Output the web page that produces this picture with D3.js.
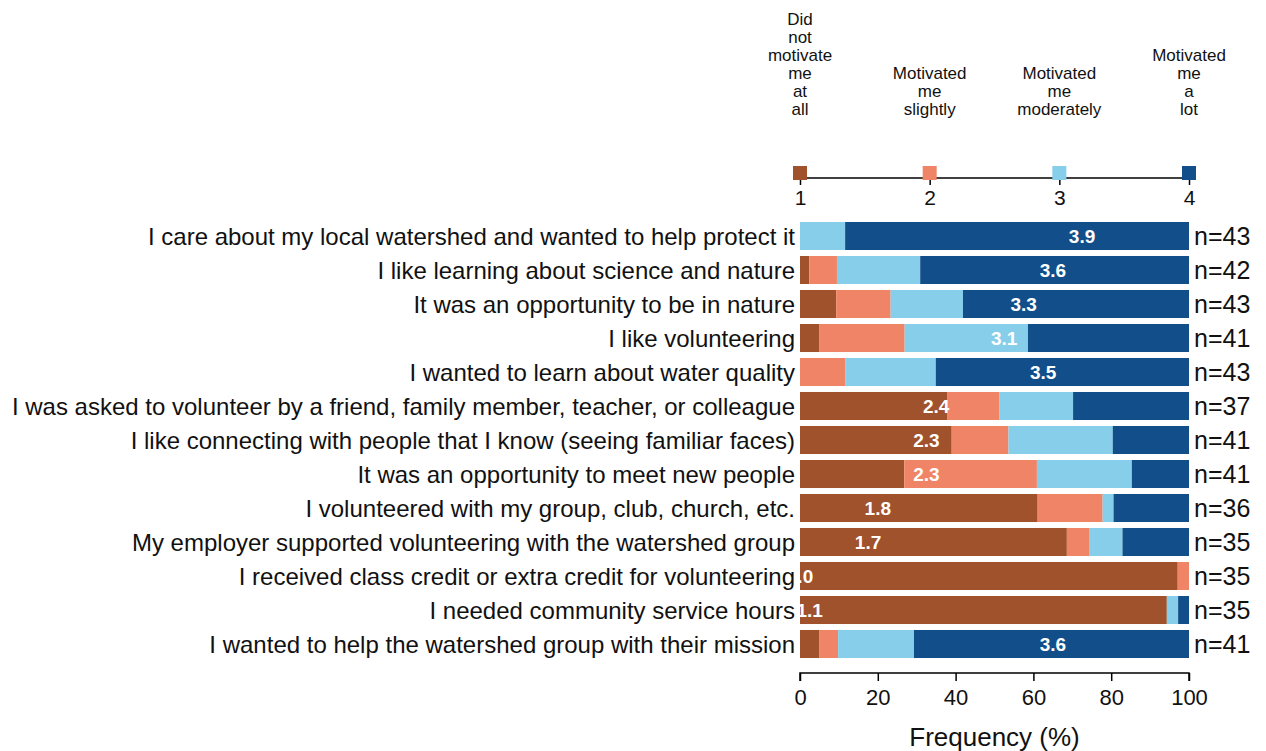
<!DOCTYPE html>
<html>
<head>
<meta charset="utf-8">
<script src="https://cdn.jsdelivr.net/npm/d3@7"></script>
<style>
  html, body { margin: 0; padding: 0; background: #ffffff; }
  svg { display: block; font-family: "Liberation Sans", Arial, sans-serif; }
</style>
</head>
<body>
<svg id="chart" width="1266" height="751"></svg>
<script>
// ---- data (percent of respondents per response level) ----
const categories = [
  "I care about my local watershed and wanted to help protect it",
  "I like learning about science and nature",
  "It was an opportunity to be in nature",
  "I like volunteering",
  "I wanted to learn about water quality",
  "I was asked to volunteer by a friend, family member, teacher, or colleague",
  "I like connecting with people that I know (seeing familiar faces)",
  "It was an opportunity to meet new people",
  "I volunteered with my group, club, church, etc.",
  "My employer supported volunteering with the watershed group",
  "I received class credit or extra credit for volunteering",
  "I needed community service hours",
  "I wanted to help the watershed group with their mission"
];
const notAtAll   = [0.0, 2.4, 9.3, 4.9, 0.0, 37.8, 39.0, 26.8, 61.1, 68.6, 97.1, 94.3, 4.9];
const slightly   = [0.0, 7.1, 14.0, 22.0, 11.6, 13.5, 14.6, 34.1, 16.7, 5.7, 2.9, 0.0, 4.9];
const moderately = [11.6, 21.4, 18.6, 31.7, 23.3, 18.9, 26.8, 24.4, 2.8, 8.6, 0.0, 2.9, 19.5];
const aLot       = [88.4, 69.1, 58.1, 41.4, 65.1, 29.8, 19.6, 14.7, 19.4, 17.1, 0.0, 2.8, 70.7];
const nValues    = [43, 42, 43, 41, 43, 37, 41, 41, 36, 35, 35, 35, 41];
const meanValues = [3.9, 3.6, 3.3, 3.1, 3.5, 2.4, 2.3, 2.3, 1.8, 1.7, 1.0, 1.1, 3.6];

const levelLabels = [
  ["Did", "not", "motivate", "me", "at", "all"],
  ["Motivated", "me", "slightly"],
  ["Motivated", "me", "moderately"],
  ["Motivated", "me", "a", "lot"]
];
const levelValues = [1, 2, 3, 4];
const xTicks = [0, 20, 40, 60, 80, 100];
const colors = ["#A0522D", "#EF8466", "#87CEEB", "#124F8A"];

// ---- layout ----
const svg = d3.select("#chart");
const x = d3.scaleLinear().domain([0, 100]).range([800, 1189]);
const y = d3.scaleBand().domain(categories).range([219, 661])
  .paddingInner(0.176).paddingOuter(0.088);
const lvl = d3.scaleLinear().domain([1, 4]).range([800, 1189]);
const meanPos = d3.scaleLinear().domain([1, 5]).range([0, 100]);

// ---- stacked bars ----
const rows = categories.map((c, i) => ({
  cat: c, vals: [notAtAll[i], slightly[i], moderately[i], aLot[i]]
}));
const segs = [];
rows.forEach(r => {
  let acc = 0;
  r.vals.forEach((v, k) => {
    const x0 = acc; acc = Math.min(100, acc + v);
    if (v > 0) segs.push({ cat: r.cat, x0: x0, x1: acc, k: k });
  });
});
svg.append("g").selectAll("rect").data(segs).join("rect")
  .attr("x", d => x(d.x0))
  .attr("width", d => x(d.x1) - x(d.x0))
  .attr("y", d => y(d.cat))
  .attr("height", y.bandwidth())
  .attr("fill", d => colors[d.k]);

// ---- mean labels ----
svg.append("g").selectAll("text").data(categories).join("text")
  .attr("x", (c, i) => x(meanPos(meanValues[i])))
  .attr("y", c => y(c) + y.bandwidth() / 2)
  .attr("dy", "0.36em")
  .attr("text-anchor", "middle")
  .attr("fill", "#ffffff")
  .attr("font-weight", "bold")
  .attr("font-size", 19)
  .text((c, i) => meanValues[i].toFixed(1));

// ---- category labels ----
svg.append("g").selectAll("text").data(categories).join("text")
  .attr("x", 795)
  .attr("y", c => y(c) + y.bandwidth() / 2)
  .attr("dy", "0.36em")
  .attr("text-anchor", "end")
  .attr("fill", "#111")
  .attr("font-size", 24)
  .text(c => c);

// ---- n labels ----
svg.append("g").selectAll("text").data(categories).join("text")
  .attr("x", 1194)
  .attr("y", c => y(c) + y.bandwidth() / 2)
  .attr("dy", "0.36em")
  .attr("text-anchor", "start")
  .attr("fill", "#111")
  .attr("font-size", 25)
  .text((c, i) => "n=" + nValues[i]);

// ---- bottom axis ----
const xAxis = svg.append("g").attr("transform", "translate(0,673)")
  .call(d3.axisBottom(x).tickValues(xTicks).tickSize(8).tickPadding(8).tickFormat(d3.format("d")));
xAxis.select(".domain").attr("stroke", "#000").attr("stroke-width", 1.5)
  .attr("d", `M${x(0)},8V0H${x(100)}V8`);
xAxis.selectAll(".tick line").attr("stroke", "#000").attr("stroke-width", 1.5);
xAxis.selectAll(".tick text").attr("font-size", 22).attr("fill", "#111")
  .attr("font-family", "Liberation Sans, Arial, sans-serif");

svg.append("text")
  .attr("x", x(50)).attr("y", 746)
  .attr("text-anchor", "middle")
  .attr("font-size", 26).attr("fill", "#111")
  .text("Frequency (%)");

// ---- top legend scale ----
const lAxis = svg.append("g").attr("transform", "translate(0,178)")
  .call(d3.axisBottom(lvl).tickValues(levelValues).tickSize(7).tickPadding(5).tickFormat(d3.format("d")));
lAxis.select(".domain").attr("stroke", "#000").attr("stroke-width", 1.5)
  .attr("d", `M${lvl(1)},0H${lvl(4)}`);
lAxis.selectAll(".tick line").attr("stroke", "#000").attr("stroke-width", 1.5);
lAxis.selectAll(".tick text").attr("font-size", 21).attr("fill", "#111")
  .attr("font-family", "Liberation Sans, Arial, sans-serif");

svg.append("g").selectAll("rect").data(levelValues).join("rect")
  .attr("x", d => lvl(d) - 7)
  .attr("y", 166)
  .attr("width", 14).attr("height", 14)
  .attr("fill", (d, i) => colors[i]);

const lg = svg.append("g").selectAll("text").data(levelValues).join("text")
  .attr("text-anchor", "middle")
  .attr("font-size", 17)
  .attr("fill", "#111");
lg.each(function(d, i) {
  const lines = levelLabels[i];
  const t = d3.select(this);
  lines.forEach((w, j) => {
    t.append("tspan")
      .attr("x", lvl(d))
      .attr("y", 115 - (lines.length - 1 - j) * 18)
      .text(w);
  });
});
</script>
</body>
</html>
